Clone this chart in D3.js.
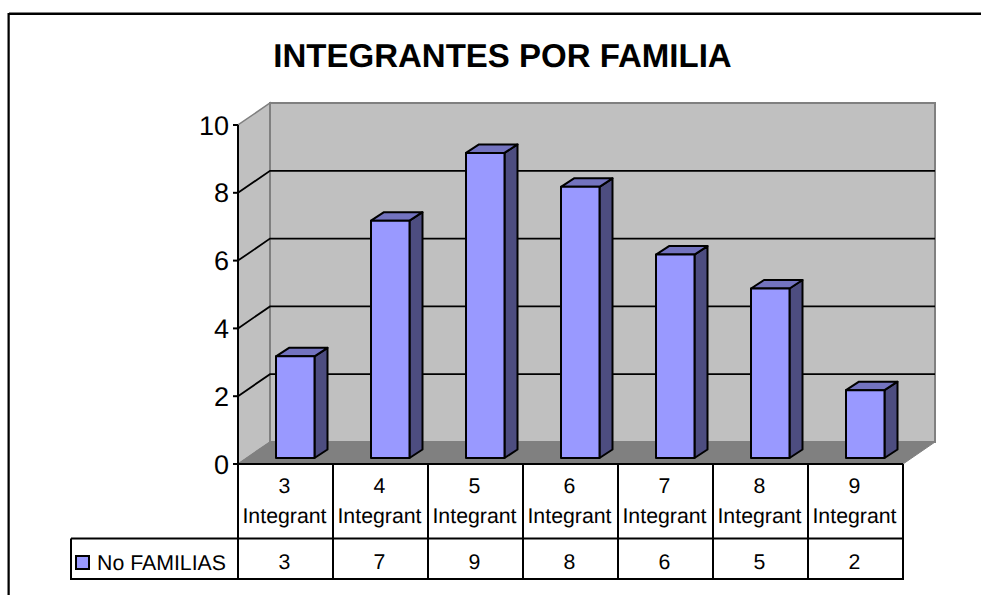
<!DOCTYPE html>
<html><head><meta charset="utf-8">
<script src="https://cdnjs.cloudflare.com/ajax/libs/d3/7.8.5/d3.min.js"></script>
<style>html,body{margin:0;padding:0;background:#fff;overflow:hidden}svg{display:block}text{font-family:"Liberation Sans",Arial,sans-serif;fill:#000;text-rendering:geometricPrecision}</style>
</head><body><div id="chart"></div>
<script>
const categories = ["3","4","5","6","7","8","9"];
const categorySuffix = "Integrant";
const values = [3,7,9,8,6,5,2];
const seriesName = "No FAMILIAS";
const yTicks = [0,2,4,6,8,10];
const title = "INTEGRANTES POR FAMILIA";

const W=981,H=595;
const svg=d3.select("#chart").append("svg").attr("width",W).attr("height",H);
const x=d3.scaleBand().domain(categories).range([238,903]);
const y=d3.scaleLinear().domain([0,10]).range([464,125]);
const DX=32,DY=-22, BDX=13,BDY=-8.5, BW=38.5;
const path=p=>d3.line()(p)+"Z";
const TS=21.3;

// outer frame: runs off the right and bottom of the picture
svg.append("rect").attr("x",9.5).attr("y",12.5).attr("width",1000).attr("height",700).attr("fill","none").attr("stroke","#808080").attr("stroke-width",1);
svg.append("rect").attr("x",8.5).attr("y",14).attr("width",1000).attr("height",700).attr("fill","none").attr("stroke","#000").attr("stroke-width",2);
svg.append("text").attr("x",502.5).attr("y",67).attr("text-anchor","middle").attr("font-size",33).attr("font-weight",700).text(title);

const x0=x.range()[0],x1=x.range()[1],y0=y(0),yT=y(10);
// walls
svg.append("path").attr("d",path([[x0,y0],[x0+DX,y0+DY],[x0+DX,yT+DY],[x0,yT]])).attr("fill","#c0c0c0").attr("stroke","#808080").attr("stroke-width",1.5);
svg.append("path").attr("d",path([[x0+DX,y0+DY],[x1+DX,y0+DY],[x1+DX,yT+DY],[x0+DX,yT+DY]])).attr("fill","#c0c0c0").attr("stroke","#808080").attr("stroke-width",2);
svg.append("path").attr("d",path([[x0,y0],[x1,y0],[x1+DX,y0+DY],[x0+DX,y0+DY]])).attr("fill","#808080").attr("stroke","#808080").attr("stroke-width",1);
// gridlines
yTicks.filter(t=>t>0&&t<10).forEach(t=>{
  svg.append("path").attr("d",d3.line()([[x0,y(t)],[x0+DX,y(t)+DY],[x1+DX,y(t)+DY]])).attr("fill","none").attr("stroke","#000").attr("stroke-width",1.8);
});
// y axis
svg.append("line").attr("x1",x0).attr("x2",x0).attr("y1",yT).attr("y2",y0).attr("stroke","#000").attr("stroke-width",2);
yTicks.forEach(t=>{
  svg.append("line").attr("x1",x0-5).attr("x2",x0).attr("y1",y(t)).attr("y2",y(t)).attr("stroke","#000").attr("stroke-width",2);
  svg.append("text").attr("x",x0-9).attr("y",y(t)+9.5).attr("text-anchor","end").attr("font-size",27).text(t);
});
// bars
categories.forEach((c,i)=>{
  const L=x(c)+38,R=L+BW,B=y(0)-6,T=y(values[i])-6;
  const g=svg.append("g").attr("stroke","#000").attr("stroke-width",2).attr("stroke-linejoin","round");
  g.append("path").attr("d",path([[R,B],[R+BDX,B+BDY],[R+BDX,T+BDY],[R,T]])).attr("fill","#4d4d80");
  g.append("path").attr("d",path([[L,T],[R,T],[R+BDX,T+BDY],[L+BDX,T+BDY]])).attr("fill","#7373bf");
  g.append("rect").attr("x",L).attr("y",T).attr("width",BW).attr("height",B-T).attr("fill","#9999ff");
});
// data table
const rowA=538.5,rowB=579,tL=71;
const tbl=svg.append("g").attr("stroke","#000").attr("stroke-width",2);
tbl.append("line").attr("x1",x0).attr("x2",x1).attr("y1",y0).attr("y2",y0);
tbl.append("line").attr("x1",tL).attr("x2",x1).attr("y1",rowA).attr("y2",rowA);
tbl.append("line").attr("x1",tL-1).attr("x2",x1+1).attr("y1",rowB).attr("y2",rowB);
tbl.append("line").attr("x1",tL).attr("x2",tL).attr("y1",rowA).attr("y2",rowB);
[...categories.map(c=>x(c)),x1].forEach(v=>tbl.append("line").attr("x1",v).attr("x2",v).attr("y1",y0).attr("y2",rowB));
categories.forEach((c,i)=>{
  const cx=x(c)+x.bandwidth()/2-1;
  svg.append("text").attr("x",cx).attr("y",493).attr("text-anchor","middle").attr("font-size",TS).text(c);
  svg.append("text").attr("x",cx).attr("y",523).attr("text-anchor","middle").attr("font-size",TS).text(categorySuffix);
  svg.append("text").attr("x",cx).attr("y",569).attr("text-anchor","middle").attr("font-size",TS).text(values[i]);
});
svg.append("rect").attr("x",76).attr("y",556).attr("width",13).attr("height",13).attr("fill","#9999ff").attr("stroke","#000").attr("stroke-width",2);
svg.append("text").attr("x",97).attr("y",569.5).attr("font-size",TS).text(seriesName);
</script></body></html>
